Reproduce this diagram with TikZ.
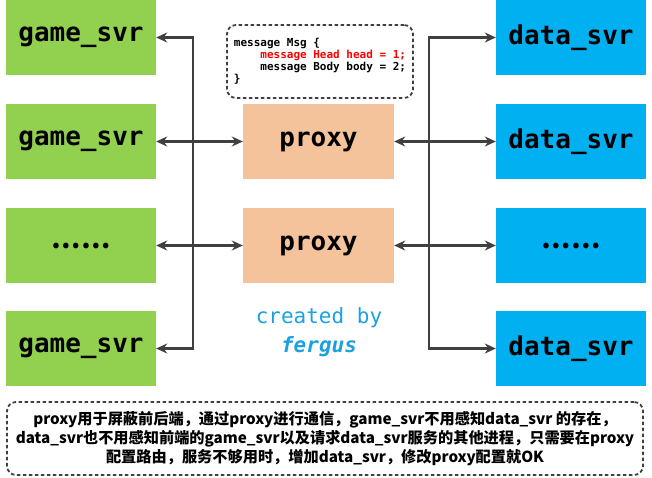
\documentclass[tikz,border=0pt]{standalone}
\usepackage{fontspec}
\setmonofont{DejaVu Sans Mono}[
  BoldFont={DejaVu Sans Mono Bold},
  ItalicFont={DejaVu Sans Mono Oblique},
  BoldItalicFont={DejaVu Sans Mono Bold Oblique}]
\newfontfamily\cjk{Noto Sans CJK SC}
\usetikzlibrary{arrows.meta}

\definecolor{gamegreen}{HTML}{92D050}
\definecolor{datablue}{HTML}{00B0F0}
\definecolor{proxyorange}{HTML}{F4C29B}
\definecolor{linegray}{HTML}{404040}
\definecolor{creditblue}{HTML}{1BA1E2}
\definecolor{headred}{HTML}{FF0000}

\newcommand{\moredots}{{\cjk\bfseries ……}}
\newcommand{\codefont}{\ttfamily\bfseries\fontsize{11}{15.5}\selectfont}

\tikzset{
  svrbox/.style={minimum width=150pt, minimum height=75pt, inner sep=0pt,
    font=\ttfamily\bfseries\fontsize{26}{30}\selectfont},
  gamebox/.style={svrbox, fill=gamegreen},
  databox/.style={svrbox, fill=datablue},
  proxybox/.style={svrbox, minimum width=151pt, fill=proxyorange},
  link/.style={draw=linegray, line width=2.2pt,
    {Stealth[length=11pt,width=10pt]}-{Stealth[length=11pt,width=10pt]}},
  dashbox/.style={draw=linegray, line width=1.8pt,
    dash pattern=on 3.5pt off 2.5pt, rounded corners=9pt},
}

\begin{document}
\begin{tikzpicture}[x=1pt, y=-1pt]
        \useasboundingbox (0,0) rectangle (652,478);

        % Servers on both sides
        \foreach \i/\y/\txt in {1/37.5/game\_svr, 2/141.5/game\_svr, 3/245.5/\moredots, 4/348.5/game\_svr} {
                \node[gamebox] (gs\i) at (81,\y) {\txt};
            }
        \foreach \i/\y/\txt in {1/37.5/data\_svr, 2/141.5/data\_svr, 3/245.5/\moredots, 4/348.5/data\_svr} {
                \node[databox] (ds\i) at (571,\y) {\txt};
            }

        % Proxies in the middle
        \node[proxybox] (px1) at (318.5,141.5) {proxy};
        \node[proxybox] (px2) at (318.5,245.5) {proxy};

        % Bus lines
        \coordinate (lbus) at (193,0);
        \coordinate (rbus) at (429,0);
        \draw[link] (gs1.east) -- (gs1.east -| lbus) -- (gs4.east -| lbus) -- (gs4.east);
        \draw[link] (ds1.west) -- (ds1.west -| rbus) -- (ds4.west -| rbus) -- (ds4.west);
        \draw[link] (gs2.east) -- (px1.west);
        \draw[link] (gs3.east) -- (px2.west);
        \draw[link] (px1.east) -- (ds2.west);
        \draw[link] (px2.east) -- (ds3.west);

        % Message definition
        \node[dashbox, minimum width=186pt, minimum height=73pt, align=left] (msg) at (320,61.5)
            {\codefont message Msg \{\\
             \codefont\phantom{0000}\textcolor{headred}{message Head head = 1;}\\
             \codefont\phantom{0000}message Body body = 2;\\
             \codefont\}\phantom{0000000000000000000000000}};

        % Credit
        \node[text=creditblue, align=center, font=\ttfamily\fontsize{21}{29}\selectfont] (credit) at (319,332)
            {created by\\ \textbf{\textit{fergus}}};

        % Note
        \node[dashbox, minimum width=636pt, minimum height=73pt, align=center,
            font=\cjk\bfseries\fontsize{15.2}{19}\selectfont] (note) at (325,438.5)
            {proxy用于屏蔽前后端，通过proxy进行通信，game\_svr不用感知data\_svr 的存在，\\
             data\_svr也不用感知前端的game\_svr以及请求data\_svr服务的其他进程，只需要在proxy\\
             配置路由，服务不够用时，增加data\_svr，修改proxy配置就OK};
    \end{tikzpicture}
\end{document}
